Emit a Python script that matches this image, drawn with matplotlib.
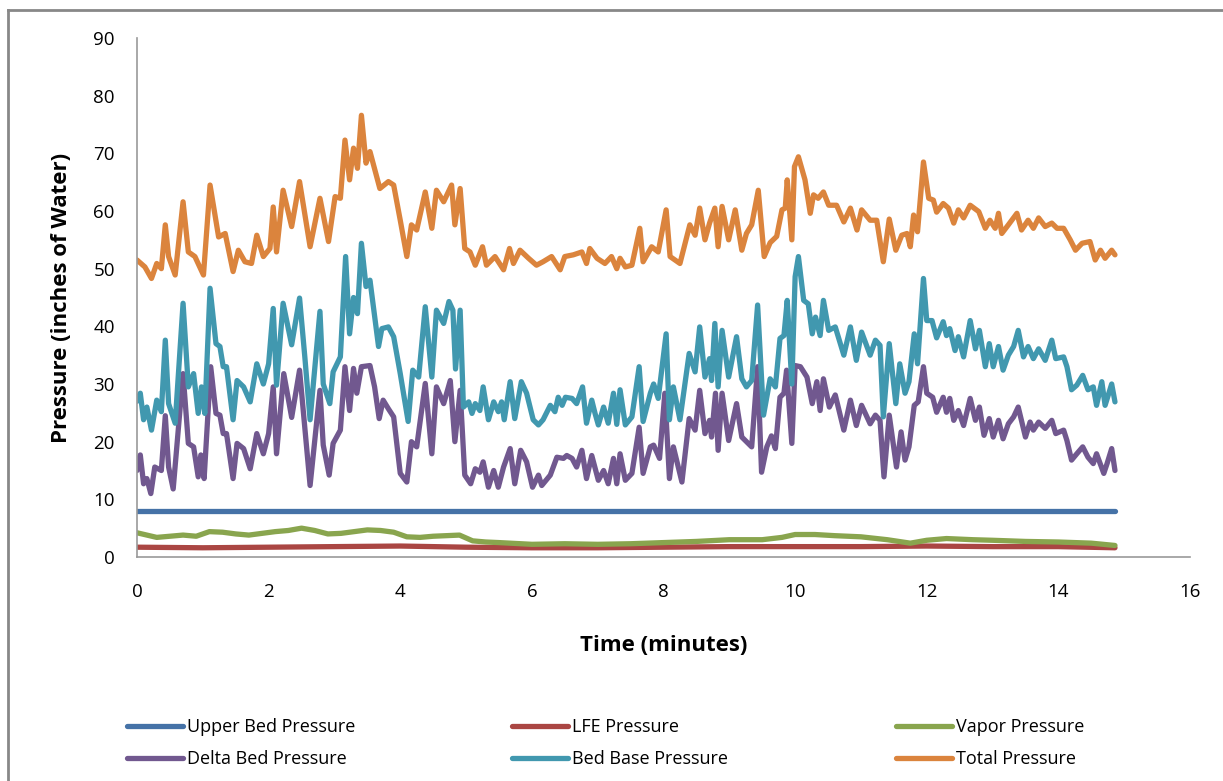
import matplotlib.pyplot as plt
from matplotlib.lines import Line2D

# ---- data (time in minutes, pressure in inches of water) ----
total_t = [0.00, 0.12, 0.22, 0.30, 0.37, 0.43, 0.48, 0.58, 0.70, 0.78, 0.88, 1.01, 1.11, 1.24, 1.34,
           1.46, 1.54, 1.64, 1.74, 1.82, 1.92, 2.02, 2.07, 2.12, 2.22, 2.35, 2.47, 2.63, 2.78, 2.91,
           3.01, 3.09, 3.16, 3.23, 3.29, 3.35, 3.41, 3.48, 3.54, 3.69, 3.82, 3.90, 4.00, 4.10, 4.17,
           4.25, 4.38, 4.48, 4.55, 4.66, 4.78, 4.83, 4.91, 4.98, 5.06, 5.14, 5.25, 5.31, 5.44, 5.57,
           5.66, 5.72, 5.82, 5.95, 6.07, 6.17, 6.30, 6.43, 6.50, 6.63, 6.76, 6.83, 6.88, 6.99, 7.11,
           7.21, 7.29, 7.34, 7.42, 7.52, 7.64, 7.69, 7.82, 7.92, 8.04, 8.10, 8.25, 8.40, 8.48, 8.55,
           8.63, 8.70, 8.78, 8.83, 8.89, 8.99, 9.09, 9.19, 9.26, 9.34, 9.44, 9.53, 9.62, 9.72, 9.80,
           9.85, 9.88, 9.95, 9.99, 10.05, 10.15, 10.23, 10.28, 10.35, 10.43, 10.51, 10.63, 10.74,
           10.84, 10.94, 11.01, 11.14, 11.24, 11.34, 11.43, 11.53, 11.62, 11.70, 11.75, 11.80, 11.86,
           11.95, 12.03, 12.10, 12.15, 12.25, 12.33, 12.41, 12.48, 12.56, 12.66, 12.79, 12.89, 12.96,
           13.04, 13.09, 13.14, 13.24, 13.37, 13.44, 13.54, 13.62, 13.70, 13.80, 13.90, 13.98, 14.08,
           14.18, 14.26, 14.36, 14.48, 14.56, 14.64, 14.71, 14.81, 14.86]
total_p = [51.5, 50.3, 48.3, 50.9, 50.0, 57.6, 52.1, 48.9, 61.6, 52.9, 52.1, 48.9, 64.5, 55.5, 56.1,
           49.5, 53.2, 51.2, 50.9, 55.8, 52.1, 53.5, 60.7, 52.9, 63.6, 57.3, 65.1, 53.8, 62.2, 54.7,
           62.5, 62.2, 72.3, 65.4, 70.9, 67.4, 76.6, 68.3, 70.3, 63.9, 65.1, 64.5, 58.4, 52.1, 57.6,
           56.7, 63.3, 57.0, 63.6, 61.6, 64.5, 57.6, 63.9, 53.5, 52.9, 50.6, 53.8, 50.6, 52.1, 49.8,
           53.5, 50.9, 53.2, 51.8, 50.6, 51.2, 52.1, 49.8, 52.1, 52.4, 52.9, 50.9, 53.5, 51.8, 50.9,
           52.1, 50.0, 51.8, 50.3, 50.6, 57.0, 51.2, 53.8, 52.9, 60.2, 52.1, 50.9, 57.6, 55.8, 60.5,
           55.0, 57.9, 60.5, 53.8, 60.8, 55.0, 60.2, 53.2, 56.1, 57.6, 63.6, 52.1, 54.5, 55.6, 60.2,
           60.5, 65.4, 55.0, 67.7, 69.4, 65.4, 59.6, 62.8, 62.2, 63.3, 61.0, 61.0, 58.1,
           60.5, 56.7, 60.2, 58.4, 58.4, 51.2, 58.6, 53.2, 55.8, 56.1, 53.8, 59.3, 56.4,
           68.5, 62.2, 61.9, 59.8, 61.3, 60.5, 57.9, 60.2, 58.8, 61.0, 59.9, 57.0, 58.4,
           57.0, 59.6, 56.1, 57.6, 59.6, 56.7, 58.4, 57.0, 58.8, 57.3, 57.9, 57.0, 57.0,
           55.0, 53.2, 54.4, 54.7, 51.5, 53.2, 51.8, 53.2, 52.4]

base_t = [0.00, 0.05, 0.10, 0.15, 0.22, 0.30, 0.37, 0.43, 0.48, 0.58, 0.70, 0.78, 0.86, 0.93, 0.98,
          1.03, 1.11, 1.20, 1.26, 1.31, 1.36, 1.46, 1.52, 1.62, 1.72, 1.82, 1.92, 2.00, 2.07, 2.12,
          2.22, 2.35, 2.47, 2.55, 2.63, 2.78, 2.83, 2.93, 2.98, 3.09, 3.17, 3.23, 3.29, 3.35, 3.41,
          3.48, 3.54, 3.67, 3.72, 3.82, 3.90, 4.00, 4.12, 4.19, 4.28, 4.38, 4.48, 4.55, 4.66, 4.74,
          4.80, 4.84, 4.91, 4.96, 5.04, 5.09, 5.14, 5.21, 5.26, 5.34, 5.42, 5.49, 5.54, 5.58, 5.67,
          5.74, 5.84, 5.92, 6.02, 6.10, 6.17, 6.28, 6.35, 6.40, 6.46, 6.51, 6.61, 6.68, 6.77, 6.83,
          6.91, 6.96, 7.01, 7.09, 7.16, 7.24, 7.29, 7.34, 7.42, 7.52, 7.63, 7.69, 7.80, 7.85, 7.92,
          8.04, 8.09, 8.15, 8.25, 8.39, 8.48, 8.55, 8.63, 8.70, 8.73, 8.78, 8.83, 8.89, 8.99, 9.11,
          9.19, 9.26, 9.34, 9.43, 9.52, 9.62, 9.70, 9.77, 9.83, 9.88, 9.95, 10.00, 10.05, 10.13,
          10.20, 10.26, 10.31, 10.38, 10.43, 10.51, 10.61, 10.74, 10.84, 10.93, 11.01, 11.14, 11.22,
          11.29, 11.34, 11.43, 11.53, 11.59, 11.67, 11.73, 11.81, 11.86, 11.95, 12.00, 12.08, 12.15,
          12.25, 12.30, 12.35, 12.43, 12.48, 12.56, 12.66, 12.74, 12.80, 12.89, 12.95, 13.01, 13.09,
          13.16, 13.24, 13.32, 13.39, 13.47, 13.54, 13.62, 13.70, 13.80, 13.90, 13.96, 14.08, 14.13,
          14.20, 14.28, 14.37, 14.45, 14.53, 14.58, 14.66, 14.71, 14.81, 14.86]
base_p = [27.0, 28.4, 23.8, 26.0, 22.0, 27.2, 25.2, 37.6, 26.6, 23.2, 44.0, 29.5, 31.8, 24.9, 29.5,
          24.9, 46.6, 37.0, 36.5, 33.0, 33.0, 23.8, 30.6, 29.5, 26.9, 33.5, 30.0, 33.5, 43.1, 29.8,
          44.0, 36.8, 44.9, 34.7, 23.8, 42.6, 30.0, 26.6, 32.1, 34.7, 52.1, 38.7, 45.0, 42.2, 54.4,
          46.9, 48.0, 36.5, 39.6, 39.9, 38.2, 31.8, 23.5, 32.4, 31.2, 43.4, 31.2, 42.8, 40.5, 44.3,
          42.8, 32.6, 42.8, 26.0, 26.9, 24.9, 26.6, 25.4, 29.5, 23.8, 26.9, 25.2, 26.9, 23.8, 30.4,
          24.0, 30.4, 28.4, 23.8, 22.9, 23.8, 26.3, 25.2, 27.7, 26.3, 27.7, 27.5, 26.6, 29.5, 23.2,
          27.2, 24.9, 22.9, 26.0, 23.2, 28.4, 23.0, 29.0, 22.9, 24.3, 33.0, 23.5, 28.4, 30.0, 27.5,
          38.7, 23.8, 29.5, 23.8, 35.3, 32.1, 39.9, 31.2, 34.4, 30.6, 40.5, 29.5, 39.3, 31.2, 38.2,
          30.9, 29.5, 30.6, 43.7, 24.6, 30.9, 29.5, 37.9, 38.4, 44.5, 30.0, 48.6, 52.1, 44.5,
          43.9, 38.7, 41.6, 38.4, 44.5, 39.3, 39.9, 35.0, 39.9, 34.1, 39.0, 35.0, 37.6,
          36.7, 24.3, 37.0, 26.6, 33.5, 28.4, 30.4, 38.7, 33.5, 48.3, 41.0, 41.0, 38.0,
          40.8, 38.4, 39.6, 35.8, 38.2, 34.7, 41.0, 36.1, 39.3, 33.0, 37.0, 33.0, 36.5,
          32.4, 35.0, 36.5, 39.3, 34.7, 36.5, 34.4, 36.1, 34.1, 37.6, 34.4, 34.7, 33.0,
          29.0, 29.8, 31.5, 29.0, 29.5, 26.3, 30.4, 26.3, 30.0, 26.9]

delta_t = [0.00, 0.05, 0.10, 0.15, 0.21, 0.27, 0.37, 0.43, 0.48, 0.55, 0.70, 0.78, 0.86, 0.93, 0.97,
           1.02, 1.12, 1.20, 1.26, 1.31, 1.36, 1.46, 1.52, 1.62, 1.72, 1.82, 1.92, 2.00, 2.07, 2.12,
           2.23, 2.35, 2.47, 2.55, 2.63, 2.78, 2.83, 2.92, 2.98, 3.09, 3.16, 3.23, 3.29, 3.34, 3.41,
           3.54, 3.61, 3.68, 3.74, 3.82, 3.90, 4.00, 4.10, 4.17, 4.25, 4.38, 4.48, 4.55, 4.66, 4.76,
           4.83, 4.91, 4.98, 5.07, 5.14, 5.21, 5.26, 5.34, 5.42, 5.49, 5.57, 5.67, 5.74, 5.83, 5.92,
           6.01, 6.10, 6.15, 6.28, 6.38, 6.48, 6.53, 6.61, 6.68, 6.76, 6.83, 6.91, 7.01, 7.09, 7.16,
           7.24, 7.29, 7.34, 7.42, 7.52, 7.63, 7.69, 7.80, 7.85, 7.94, 8.02, 8.09, 8.15, 8.28, 8.39,
           8.48, 8.55, 8.63, 8.70, 8.73, 8.79, 8.83, 8.89, 8.99, 9.11, 9.19, 9.26, 9.34, 9.43, 9.49,
           9.57, 9.64, 9.70, 9.77, 9.83, 9.87, 9.95, 10.00, 10.08, 10.18, 10.26, 10.33, 10.38, 10.43,
           10.52, 10.61, 10.74, 10.84, 10.93, 11.01, 11.14, 11.22, 11.29, 11.35, 11.43, 11.54, 11.61,
           11.67, 11.73, 11.81, 11.87, 11.95, 12.00, 12.09, 12.15, 12.25, 12.30, 12.35, 12.41, 12.48,
           12.56, 12.66, 12.74, 12.80, 12.87, 12.95, 13.01, 13.09, 13.16, 13.24, 13.32, 13.39, 13.50,
           13.57, 13.62, 13.70, 13.80, 13.90, 13.96, 14.08, 14.13, 14.20, 14.28, 14.37, 14.45, 14.53,
           14.58, 14.69, 14.74, 14.81, 14.86]
delta_p = [15.0, 17.7, 12.7, 13.6, 11.0, 15.6, 15.0, 24.5, 15.6, 11.8, 31.8, 19.7, 19.1, 13.9, 17.7,
           13.6, 33.0, 24.9, 24.6, 21.4, 21.4, 13.6, 19.7, 18.8, 15.3, 21.4, 17.9, 21.4, 29.5, 17.9,
           31.8, 24.2, 32.4, 22.5, 12.4, 28.9, 19.4, 14.2, 19.7, 22.0, 33.0, 25.4, 32.7, 28.4, 33.0,
           33.2, 29.5, 24.0, 27.2, 25.7, 24.3, 14.5, 13.0, 20.0, 19.1, 30.1, 17.9, 29.5, 26.6, 30.6,
           20.0, 28.9, 14.2, 12.7, 15.3, 14.7, 16.5, 12.1, 15.0, 12.1, 15.6, 18.8, 12.7, 18.5, 16.5,
           12.1, 14.2, 12.4, 14.2, 17.3, 17.1, 17.6, 17.1, 15.6, 18.5, 13.6, 17.6, 13.3, 15.0, 12.7,
           17.1, 12.7, 17.9, 13.3, 14.5, 22.5, 14.5, 19.1, 19.4, 17.1, 28.4, 13.6, 19.1, 13.0, 24.0,
           22.0, 28.9, 21.4, 23.7, 20.8, 28.4, 18.5, 28.4, 20.2, 26.6, 20.8, 20.0, 19.1, 33.0, 14.7,
           19.1, 21.0, 18.8, 27.7, 28.4, 32.4, 19.7, 33.2, 33.0, 31.2, 26.6, 30.4, 25.4, 30.9,
           26.0, 28.1, 22.0, 27.2, 22.8, 26.3, 23.1, 24.6, 23.7, 13.9, 24.6, 15.6, 21.7,
           16.8, 19.1, 26.3, 26.9, 33.0, 28.4, 27.7, 25.1, 27.7, 25.1, 27.5, 23.7, 25.4,
           22.8, 27.5, 23.7, 26.0, 21.1, 24.0, 20.8, 23.7, 20.5, 23.1, 24.3, 26.0, 20.8,
           23.4, 22.0, 23.4, 22.3, 23.7, 21.4, 22.0, 20.2, 16.8, 17.9, 19.1, 17.3, 16.2,
           17.9, 14.5, 16.2, 18.8, 15.0]

vapor_t = [0.00, 0.15, 0.30, 0.50, 0.70, 0.90, 1.10, 1.30, 1.50, 1.70, 1.90, 2.10, 2.30, 2.50, 2.70,
           2.90, 3.10, 3.30, 3.50, 3.70, 3.90, 4.10, 4.30, 4.50, 4.70, 4.90, 5.10, 5.30, 5.50, 6.00,
           6.50, 7.00, 7.50, 8.00, 8.50, 9.00, 9.50, 9.80, 10.00, 10.30, 10.60, 11.00, 11.40, 11.75,
           12.00, 12.30, 12.70, 13.00, 13.50, 14.00, 14.50, 14.86]
vapor_p = [4.2, 3.8, 3.4, 3.6, 3.8, 3.6, 4.4, 4.3, 4.0, 3.8, 4.1, 4.4, 4.6, 5.0, 4.6,
           4.0, 4.1, 4.4, 4.7, 4.6, 4.3, 3.5, 3.4, 3.6, 3.7, 3.8, 2.8, 2.6, 2.5, 2.2,
           2.3, 2.2, 2.3, 2.5, 2.7, 3.0, 3.0, 3.4, 3.9, 3.9, 3.7, 3.5, 3.0, 2.4,
           2.9, 3.2, 3.0, 2.9, 2.7, 2.6, 2.4, 2.0]

lfe_t = [0.0, 1.0, 2.0, 3.0, 4.0, 5.0, 6.0, 7.0, 8.0, 9.0, 10.0, 11.0, 12.0, 13.0, 14.0, 14.86]
lfe_p = [1.7, 1.6, 1.7, 1.8, 1.9, 1.7, 1.6, 1.6, 1.7, 1.8, 1.8, 1.8, 1.9, 1.8, 1.8, 1.6]

upper_t = [0.0, 14.86]
upper_p = [7.9, 7.9]

x_ticks = list(range(0, 17, 2))
y_ticks = list(range(0, 91, 10))

plt.rcParams['font.family'] = ['Open Sans', 'DejaVu Sans']

fig = plt.figure(figsize=(12.23, 7.81), dpi=100)
ax = fig.add_axes([137 / 1223, 1 - 557 / 781, (1190 - 137) / 1223, (557 - 38) / 781])

lw = 3.8
series = [
    ('Upper Bed Pressure', upper_t, upper_p, '#4572A7'),
    ('LFE Pressure', lfe_t, lfe_p, '#AA4643'),
    ('Vapor Pressure', vapor_t, vapor_p, '#89A54E'),
    ('Delta Bed Pressure', delta_t, delta_p, '#71588F'),
    ('Bed Base Pressure', base_t, base_p, '#4198AF'),
    ('Total Pressure', total_t, total_p, '#DB843D'),
]
handles = {}
for name, t, p, c in series:
    ln, = ax.plot(t, p, color=c, lw=lw, solid_joinstyle='round', solid_capstyle='round', label=name)
    handles[name] = ln

ax.set_xlim(0, 16)
ax.set_ylim(0, 90)
ax.set_xticks(x_ticks)
ax.set_yticks(y_ticks)
ax.tick_params(length=0, labelsize=13.5)
ax.tick_params(axis='x', pad=19)
ax.tick_params(axis='y', pad=16)
for s in ['top', 'right']:
    ax.spines[s].set_visible(False)
for s in ['left', 'bottom']:
    ax.spines[s].set_color('#999999')
    ax.spines[s].set_linewidth(1.2)

ax.set_xlabel('Time (minutes)', fontsize=16, fontweight='bold', labelpad=24)
ax.set_ylabel('Pressure (inches of Water)', fontsize=16, fontweight='bold', labelpad=15)

# legend: three columns of two rows, placed like the spreadsheet one
cols = [(['Upper Bed Pressure', 'Delta Bed Pressure'], 127),
        (['LFE Pressure', 'Bed Base Pressure'], 512),
        (['Vapor Pressure', 'Total Pressure'], 896)]
for names, xpix in cols:
    fig.legend([handles[n] for n in names], names, loc='upper left',
               bbox_to_anchor=(xpix / 1223, 1 - 718 / 781), frameon=False,
               fontsize=13, handlelength=3.1, handletextpad=0.22, labelspacing=0.8,
               borderaxespad=0, borderpad=0)

# chart area border (top and left edges visible)
fig.add_artist(Line2D([8 / 1223, 1], [1 - 10 / 781, 1 - 10 / 781], color='#888888', lw=2))
fig.add_artist(Line2D([8 / 1223, 8 / 1223], [0, 1 - 10 / 781], color='#888888', lw=2))

fig.savefig('out.png', dpi=100)
